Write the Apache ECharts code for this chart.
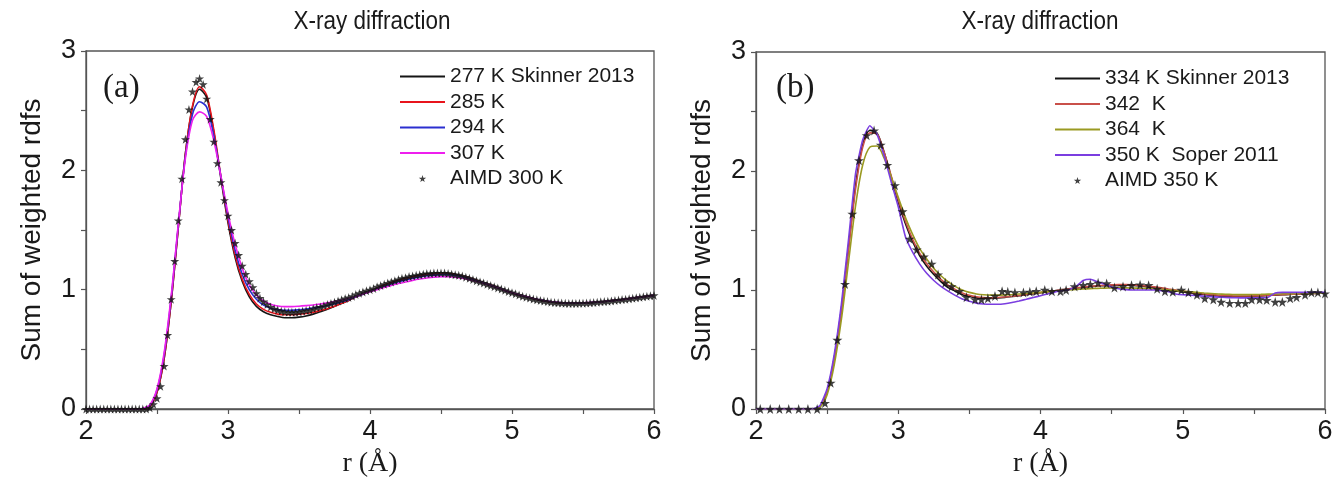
<!DOCTYPE html>
<html>
<head>
<meta charset="utf-8">
<script src="https://cdn.jsdelivr.net/npm/echarts@6/dist/echarts.min.js"></script>
<style>
  html, body { margin: 0; background: #fff; }
  #main { width: 1337px; height: 479px; }
</style>
</head>
<body>
<div id="main"></div>
<script>
// r grid (Å) for the experimental curves, one row per 0.5 Å
const rLine = [
  2, 2.05, 2.1, 2.15, 2.2, 2.25, 2.3, 2.35, 2.4, 2.45,
  2.5, 2.55, 2.6, 2.65, 2.7, 2.75, 2.8, 2.85, 2.9, 2.95,
  3, 3.05, 3.1, 3.15, 3.2, 3.25, 3.3, 3.35, 3.4, 3.45,
  3.5, 3.55, 3.6, 3.65, 3.7, 3.75, 3.8, 3.85, 3.9, 3.95,
  4, 4.05, 4.1, 4.15, 4.2, 4.25, 4.3, 4.35, 4.4, 4.45,
  4.5, 4.55, 4.6, 4.65, 4.7, 4.75, 4.8, 4.85, 4.9, 4.95,
  5, 5.05, 5.1, 5.15, 5.2, 5.25, 5.3, 5.35, 5.4, 5.45,
  5.5, 5.55, 5.6, 5.65, 5.7, 5.75, 5.8, 5.85, 5.9, 5.95,
  6
];

// panel (a)
const k277 = [
  0, 0, 0, 0, 0, 0, 0, 0, 0, 0.02,
  0.14, 0.42, 0.90, 1.52, 2.14, 2.53, 2.68, 2.61, 2.32, 1.93,
  1.56, 1.27, 1.07, 0.94, 0.86, 0.815, 0.79, 0.775, 0.765, 0.765,
  0.77, 0.78, 0.795, 0.815, 0.835, 0.86, 0.885, 0.91, 0.94, 0.965,
  0.99, 1.015, 1.04, 1.06, 1.08, 1.095, 1.11, 1.12, 1.13, 1.135,
  1.14, 1.14, 1.13, 1.115, 1.10, 1.08, 1.06, 1.04, 1.02, 0.995,
  0.975, 0.955, 0.94, 0.925, 0.91, 0.90, 0.892, 0.888, 0.885, 0.885,
  0.887, 0.89, 0.895, 0.90, 0.906, 0.913, 0.92, 0.928, 0.936, 0.944,
  0.952
];
const k285 = [
  0, 0, 0, 0, 0, 0, 0, 0, 0, 0.02,
  0.14, 0.42, 0.90, 1.52, 2.14, 2.54, 2.70, 2.63, 2.34, 1.95,
  1.58, 1.29, 1.09, 0.96, 0.88, 0.835, 0.81, 0.795, 0.79, 0.79,
  0.795, 0.80, 0.81, 0.825, 0.84, 0.862, 0.886, 0.91, 0.938, 0.963,
  0.988, 1.012, 1.036, 1.057, 1.076, 1.092, 1.106, 1.116, 1.126, 1.131,
  1.136, 1.136, 1.127, 1.112, 1.097, 1.078, 1.058, 1.038, 1.018, 0.994,
  0.974, 0.955, 0.94, 0.925, 0.911, 0.901, 0.893, 0.889, 0.886, 0.886,
  0.888, 0.891, 0.896, 0.901, 0.907, 0.914, 0.921, 0.929, 0.937, 0.945,
  0.953
];
const k294 = [
  0, 0, 0, 0, 0, 0, 0, 0, 0.005, 0.03,
  0.16, 0.45, 0.93, 1.54, 2.12, 2.47, 2.575, 2.53, 2.29, 1.95,
  1.61, 1.33, 1.13, 1.00, 0.92, 0.87, 0.845, 0.833, 0.828, 0.828,
  0.832, 0.838, 0.846, 0.856, 0.868, 0.882, 0.898, 0.915, 0.94, 0.962,
  0.985, 1.007, 1.028, 1.048, 1.066, 1.082, 1.096, 1.107, 1.116, 1.122,
  1.126, 1.126, 1.12, 1.108, 1.093, 1.075, 1.056, 1.036, 1.016, 0.994,
  0.974, 0.956, 0.94, 0.926, 0.913, 0.903, 0.895, 0.89, 0.887, 0.887,
  0.889, 0.892, 0.896, 0.901, 0.907, 0.914, 0.921, 0.929, 0.937, 0.945,
  0.952
];
const k307 = [
  0, 0, 0, 0, 0, 0, 0, 0, 0.005, 0.035,
  0.17, 0.47, 0.95, 1.55, 2.10, 2.42, 2.49, 2.45, 2.25, 1.95,
  1.64, 1.38, 1.18, 1.04, 0.955, 0.905, 0.877, 0.863, 0.858, 0.858,
  0.861, 0.866, 0.872, 0.88, 0.889, 0.90, 0.913, 0.928, 0.945, 0.963,
  0.982, 1.0, 1.018, 1.035, 1.051, 1.065, 1.078, 1.089, 1.098, 1.105,
  1.108, 1.108, 1.104, 1.095, 1.083, 1.068, 1.051, 1.033, 1.013, 0.993,
  0.974, 0.956, 0.94, 0.926, 0.913, 0.903, 0.896, 0.891, 0.888, 0.888,
  0.89, 0.893, 0.897, 0.902, 0.908, 0.914, 0.921, 0.929, 0.937, 0.945,
  0.952
];
// AIMD 300 K, every 0.025 Å
const rStarA = [
  2, 2.025, 2.05, 2.075, 2.1, 2.125, 2.15, 2.175, 2.2, 2.225, 2.25, 2.275, 2.3, 2.325, 2.35, 2.375, 2.4, 2.425, 2.45, 2.475,
  2.5, 2.525, 2.55, 2.575, 2.6, 2.625, 2.65, 2.675, 2.7, 2.725, 2.75, 2.775, 2.8, 2.825, 2.85, 2.875, 2.9, 2.925, 2.95, 2.975,
  3, 3.025, 3.05, 3.075, 3.1, 3.125, 3.15, 3.175, 3.2, 3.225, 3.25, 3.275, 3.3, 3.325, 3.35, 3.375, 3.4, 3.425, 3.45, 3.475,
  3.5, 3.525, 3.55, 3.575, 3.6, 3.625, 3.65, 3.675, 3.7, 3.725, 3.75, 3.775, 3.8, 3.825, 3.85, 3.875, 3.9, 3.925, 3.95, 3.975,
  4, 4.025, 4.05, 4.075, 4.1, 4.125, 4.15, 4.175, 4.2, 4.225, 4.25, 4.275, 4.3, 4.325, 4.35, 4.375, 4.4, 4.425, 4.45, 4.475,
  4.5, 4.525, 4.55, 4.575, 4.6, 4.625, 4.65, 4.675, 4.7, 4.725, 4.75, 4.775, 4.8, 4.825, 4.85, 4.875, 4.9, 4.925, 4.95, 4.975,
  5, 5.025, 5.05, 5.075, 5.1, 5.125, 5.15, 5.175, 5.2, 5.225, 5.25, 5.275, 5.3, 5.325, 5.35, 5.375, 5.4, 5.425, 5.45, 5.475,
  5.5, 5.525, 5.55, 5.575, 5.6, 5.625, 5.65, 5.675, 5.7, 5.725, 5.75, 5.775, 5.8, 5.825, 5.85, 5.875, 5.9, 5.925, 5.95, 5.975,
  6
];
const aimd300 = [
  0, 0, 0, 0, 0, 0, 0, 0, 0, 0, 0, 0, 0, 0, 0, 0, 0, 0, 0.01, 0.04,
  0.09, 0.19, 0.36, 0.62, 0.92, 1.24, 1.58, 1.93, 2.26, 2.51, 2.66, 2.74, 2.77, 2.72, 2.60, 2.43, 2.24, 2.06, 1.90, 1.75,
  1.62, 1.50, 1.39, 1.29, 1.20, 1.13, 1.07, 1.02, 0.97, 0.93, 0.90, 0.875, 0.855, 0.84, 0.83, 0.82, 0.815, 0.81, 0.81, 0.81,
  0.815, 0.82, 0.825, 0.83, 0.84, 0.85, 0.855, 0.865, 0.875, 0.885, 0.895, 0.905, 0.915, 0.925, 0.935, 0.945, 0.96, 0.97, 0.98, 0.99,
  1.00, 1.01, 1.025, 1.035, 1.045, 1.055, 1.065, 1.075, 1.085, 1.095, 1.10, 1.11, 1.115, 1.12, 1.125, 1.13, 1.135, 1.135, 1.14, 1.14,
  1.14, 1.14, 1.135, 1.13, 1.125, 1.12, 1.115, 1.105, 1.095, 1.085, 1.075, 1.065, 1.055, 1.045, 1.035, 1.025, 1.015, 1.005, 0.995, 0.985,
  0.975, 0.965, 0.955, 0.945, 0.937, 0.93, 0.922, 0.915, 0.91, 0.905, 0.90, 0.895, 0.892, 0.89, 0.888, 0.886, 0.885, 0.885, 0.885, 0.886,
  0.887, 0.888, 0.89, 0.892, 0.895, 0.898, 0.90, 0.903, 0.906, 0.91, 0.913, 0.917, 0.92, 0.924, 0.928, 0.932, 0.936, 0.94, 0.944, 0.948,
  0.952
];

// panel (b)
const k334 = [
  0, 0, 0, 0, 0, 0, 0, 0, 0, 0.02,
  0.15, 0.43, 0.84, 1.36, 1.88, 2.22, 2.34, 2.32, 2.16, 1.95,
  1.74, 1.56, 1.41, 1.29, 1.20, 1.13, 1.07, 1.02, 0.99, 0.96,
  0.945, 0.935, 0.93, 0.93, 0.933, 0.938, 0.945, 0.952, 0.96, 0.968,
  0.977, 0.985, 0.993, 1.0, 1.008, 1.015, 1.022, 1.028, 1.033, 1.037,
  1.04, 1.041, 1.041, 1.038, 1.033, 1.026, 1.018, 1.009, 1.0, 0.992,
  0.984, 0.976, 0.968, 0.962, 0.956, 0.951, 0.948, 0.946, 0.945, 0.946,
  0.948, 0.951, 0.954, 0.957, 0.96, 0.963, 0.966, 0.968, 0.97, 0.972,
  0.974
];
const k342 = [
  0, 0, 0, 0, 0, 0, 0, 0, 0, 0.02,
  0.15, 0.42, 0.82, 1.33, 1.85, 2.20, 2.32, 2.31, 2.16, 1.96,
  1.76, 1.58, 1.43, 1.31, 1.22, 1.15, 1.09, 1.04, 1.005, 0.975,
  0.955, 0.943, 0.937, 0.935, 0.937, 0.941, 0.947, 0.954, 0.962, 0.97,
  0.978, 0.986, 0.994, 1.002, 1.01, 1.018, 1.025, 1.031, 1.036, 1.04,
  1.043, 1.045, 1.045, 1.043, 1.039, 1.033, 1.026, 1.018, 1.009, 1.0,
  0.991, 0.982, 0.974, 0.967, 0.961, 0.956, 0.953, 0.951, 0.95, 0.95,
  0.951, 0.953, 0.955, 0.958, 0.961, 0.964, 0.966, 0.968, 0.97, 0.972,
  0.974
];
const k364 = [
  0, 0, 0, 0, 0, 0, 0, 0, 0, 0.015,
  0.12, 0.37, 0.75, 1.23, 1.71, 2.05, 2.20, 2.21, 2.11, 1.95,
  1.78, 1.61, 1.47, 1.35, 1.26, 1.18, 1.12, 1.07, 1.03, 1.0,
  0.98, 0.967, 0.96, 0.957, 0.957, 0.959, 0.962, 0.966, 0.97, 0.975,
  0.98, 0.985, 0.99, 0.995, 1.0, 1.004, 1.008, 1.011, 1.014, 1.016,
  1.017, 1.018, 1.018, 1.017, 1.015, 1.012, 1.009, 1.005, 1.0, 0.995,
  0.99, 0.985, 0.98, 0.975, 0.971, 0.967, 0.964, 0.962, 0.961, 0.961,
  0.962, 0.963, 0.965, 0.966, 0.968, 0.969, 0.97, 0.971, 0.972, 0.973,
  0.974
];
const k350 = [
  0, 0, 0, 0, 0, 0, 0, 0, 0, 0.03,
  0.17, 0.46, 0.88, 1.42, 1.98, 2.26, 2.38, 2.31, 2.13, 1.91,
  1.70, 1.45, 1.32, 1.22, 1.14, 1.08, 1.03, 0.99, 0.955, 0.925,
  0.905, 0.89, 0.882, 0.88, 0.88, 0.885, 0.895, 0.908, 0.922, 0.937,
  0.952, 0.967, 0.982, 0.993, 1.003, 1.03, 1.08, 1.09, 1.07, 1.05,
  1.025, 1.01, 1.003, 1.0, 1.0, 1.0, 1.0, 0.995, 0.985, 0.967,
  0.96, 0.958, 0.953, 0.948, 0.944, 0.94, 0.937, 0.935, 0.934, 0.934,
  0.934, 0.935, 0.94, 0.975, 0.98, 0.98, 0.98, 0.98, 0.98, 0.98,
  0.98
];
// AIMD 350 K
const rStarB = [
  2.03, 2.1, 2.165, 2.23, 2.3, 2.365, 2.43, 2.485, 2.525, 2.572,
  2.626, 2.677, 2.724, 2.778, 2.83, 2.877, 2.923, 2.977, 3.03, 3.08,
  3.13, 3.18, 3.235, 3.28, 3.33, 3.375, 3.43, 3.48, 3.54, 3.585,
  3.63, 3.68, 3.73, 3.77, 3.82, 3.88, 3.925, 3.97, 4.03, 4.08,
  4.14, 4.18, 4.24, 4.3, 4.35, 4.405, 4.465, 4.52, 4.58, 4.64,
  4.7, 4.76, 4.82, 4.875, 4.93, 4.99, 5.04, 5.1, 5.155, 5.215,
  5.27, 5.33, 5.39, 5.44, 5.485, 5.54, 5.59, 5.65, 5.7, 5.755,
  5.8, 5.86, 5.905, 5.95, 6.0
];
const aimd350 = [
  0, 0, 0, 0, 0, 0, 0, 0.05, 0.22, 0.58,
  1.05, 1.64, 2.09, 2.30, 2.34, 2.22, 2.05, 1.88, 1.66, 1.43,
  1.34, 1.28, 1.22, 1.13, 1.06, 1.03, 0.99, 0.94, 0.92, 0.92,
  0.93, 0.95, 0.99, 0.985, 0.98, 0.98, 0.985, 0.99, 1.0, 0.99,
  0.99, 1.0, 1.03, 1.04, 1.05, 1.06, 1.055, 1.02, 1.03, 1.04,
  1.045, 1.04, 1.01, 0.99, 0.985, 1.0, 0.98, 0.96, 0.93, 0.92,
  0.90, 0.89, 0.89, 0.89, 0.92, 0.92, 0.915, 0.90, 0.90, 0.93,
  0.94, 0.96, 0.98, 0.98, 0.97
];

const namesA = ['277 K Skinner 2013', '285 K', '294 K', '307 K', 'AIMD 300 K'];
const namesB = ['334 K Skinner 2013', '342  K', '364  K', '350 K  Soper 2011', 'AIMD 350 K'];
const colorsA = ['#151515', '#e8141c', '#2b2fd0', '#ee1fee'];
const colorsB = ['#151515', '#c9504a', '#9a9a22', '#7b3ee0'];

const STAR = 'path://M50,0 L61,35 L98,35 L68,57 L79,91 L50,70 L21,91 L32,57 L2,35 L39,35 Z';
const DASH = 'path://M0,0 H100 V4.4 H0 Z';
const AXIS = '#555';
const INK = '#1a1a1a';
const SANS = 'Liberation Sans, Arial, sans-serif';
const SERIF = 'Liberation Serif, Times New Roman, serif';

function pairs(xs, ys) {
  return xs.map((x, i) => [x, ys[i]]);
}

function xAxisFor(gi) {
  return {
    type: 'value', gridIndex: gi, min: 2, max: 6, interval: 1,
    axisLine: { lineStyle: { color: AXIS, width: 1.3 } },
    axisTick: { length: 5, lineStyle: { color: AXIS, width: 1.2 } },
    minorTick: { show: true, splitNumber: 2, length: 5, lineStyle: { color: AXIS, width: 1.2 } },
    axisLabel: { fontSize: 27, color: INK, margin: 9, fontFamily: SANS },
    splitLine: { show: false },
    name: 'r (Å)', nameLocation: 'middle', nameGap: 41,
    nameTextStyle: { fontFamily: SERIF, fontSize: 28, color: INK }
  };
}

function yAxisFor(gi) {
  return {
    type: 'value', gridIndex: gi, min: 0, max: 3, interval: 1,
    axisLine: { lineStyle: { color: AXIS, width: 1.3 } },
    axisTick: { length: 5, lineStyle: { color: AXIS, width: 1.2 } },
    minorTick: { show: true, splitNumber: 2, length: 5, lineStyle: { color: AXIS, width: 1.2 } },
    axisLabel: { fontSize: 27, color: INK, margin: 10, fontFamily: SANS },
    splitLine: { show: false },
    name: 'Sum of weighted rdfs', nameLocation: 'middle', nameGap: 40,
    nameTextStyle: { fontFamily: SANS, fontSize: 28, color: INK }
  };
}

function lineSeries(name, ys, color, gi, smooth) {
  return {
    name: name, type: 'line', xAxisIndex: gi, yAxisIndex: gi,
    data: pairs(rLine, ys), symbol: 'none', smooth: smooth,
    lineStyle: { color: color, width: 1.6 }, itemStyle: { color: color },
    silent: true, animation: false
  };
}

function starSeries(name, xs, ys, gi, size) {
  return {
    name: name, type: 'scatter', xAxisIndex: gi, yAxisIndex: gi,
    data: pairs(xs, ys), symbol: STAR, symbolSize: size,
    itemStyle: { color: '#111' }, silent: true, animation: false, z: 5
  };
}

function legendFor(names, left, top) {
  return {
    data: names.map((n, i) => ({ name: n, icon: i === 4 ? STAR : DASH })),
    orient: 'vertical', left: left, top: top, padding: 0,
    itemWidth: 45, itemHeight: 7, itemGap: 4.5,
    selectedMode: false,
    textStyle: { fontFamily: SANS, fontSize: 21, color: INK, lineHeight: 21 }
  };
}

const chart = echarts.init(document.getElementById('main'));
chart.setOption({
  backgroundColor: '#fff',
  animation: false,
  grid: [
    { left: 86, top: 51, width: 568, height: 358, outerBoundsMode: 'none',
      show: true, borderColor: AXIS, borderWidth: 1.3 },
    { left: 756, top: 52, width: 569, height: 357, outerBoundsMode: 'none',
      show: true, borderColor: AXIS, borderWidth: 1.3 }
  ],
  xAxis: [xAxisFor(0), xAxisFor(1)],
  yAxis: [yAxisFor(0), yAxisFor(1)],
  legend: [legendFor(namesA, 400, 66), legendFor(namesB, 1055, 68)],
  graphic: [
    { type: 'text', x: 372, y: 9, scaleY: 1.15,
      style: { text: 'X-ray diffraction', font: '22.5px ' + SANS, fill: INK, align: 'center', verticalAlign: 'top' } },
    { type: 'text', x: 1040, y: 9, scaleY: 1.15,
      style: { text: 'X-ray diffraction', font: '22.5px ' + SANS, fill: INK, align: 'center', verticalAlign: 'top' } },
    { type: 'text', x: 103, y: 72, style: { text: '(a)', font: '33px ' + SERIF, fill: INK } },
    { type: 'text', x: 776, y: 72, style: { text: '(b)', font: '33px ' + SERIF, fill: INK } }
  ],
  series: [
    lineSeries(namesA[0], k277, colorsA[0], 0, 0.3),
    lineSeries(namesA[1], k285, colorsA[1], 0, 0.3),
    lineSeries(namesA[2], k294, colorsA[2], 0, 0.3),
    lineSeries(namesA[3], k307, colorsA[3], 0, 0.3),
    starSeries(namesA[4], rStarA, aimd300, 0, 9),
    lineSeries(namesB[0], k334, colorsB[0], 1, 0.3),
    lineSeries(namesB[1], k342, colorsB[1], 1, 0.3),
    lineSeries(namesB[2], k364, colorsB[2], 1, 0.3),
    lineSeries(namesB[3], k350, colorsB[3], 1, 0.15),
    starSeries(namesB[4], rStarB, aimd350, 1, 10)
  ]
});
</script>
</body>
</html>
